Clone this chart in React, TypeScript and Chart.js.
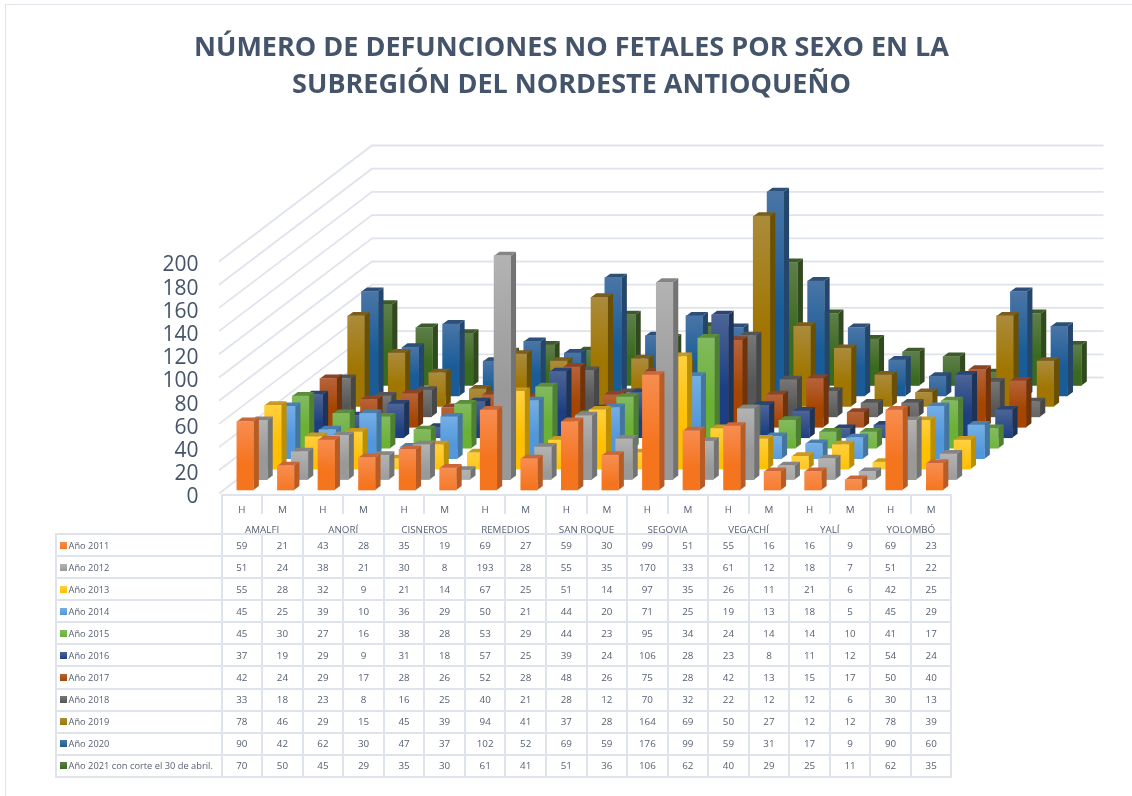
import React, { useEffect, useRef } from "react";
import { Chart, registerables } from "chart.js";

Chart.register(...registerables);

const titleLines = ["NÚMERO DE DEFUNCIONES NO FETALES POR SEXO EN LA", "SUBREGIÓN DEL NORDESTE ANTIOQUEÑO"];
const municipalities = ["AMALFI", "ANORÍ", "CISNEROS", "REMEDIOS", "SAN ROQUE", "SEGOVIA", "VEGACHÍ", "YALÍ", "YOLOMBÓ"];
const sexes = ["H", "M"];
const seriesNames = ["Año 2011", "Año 2012", "Año 2013", "Año 2014", "Año 2015", "Año 2016", "Año 2017", "Año 2018", "Año 2019", "Año 2020", "Año 2021 con corte el 30 de abril."];

const y2011 = [59, 21, 43, 28, 35, 19, 69, 27, 59, 30, 99, 51, 55, 16, 16, 9, 69, 23];
const y2012 = [51, 24, 38, 21, 30, 8, 193, 28, 55, 35, 170, 33, 61, 12, 18, 7, 51, 22];
const y2013 = [55, 28, 32, 9, 21, 14, 67, 25, 51, 14, 97, 35, 26, 11, 21, 6, 42, 25];
const y2014 = [45, 25, 39, 10, 36, 29, 50, 21, 44, 20, 71, 25, 19, 13, 18, 5, 45, 29];
const y2015 = [45, 30, 27, 16, 38, 28, 53, 29, 44, 23, 95, 34, 24, 14, 14, 10, 41, 17];
const y2016 = [37, 19, 29, 9, 31, 18, 57, 25, 39, 24, 106, 28, 23, 8, 11, 12, 54, 24];
const y2017 = [42, 24, 29, 17, 28, 26, 52, 28, 48, 26, 75, 28, 42, 13, 15, 17, 50, 40];
const y2018 = [33, 18, 23, 8, 16, 25, 40, 21, 28, 12, 70, 32, 22, 12, 12, 6, 30, 13];
const y2019 = [78, 46, 29, 15, 45, 39, 94, 41, 37, 28, 164, 69, 50, 27, 12, 12, 78, 39];
const y2020 = [90, 42, 62, 30, 47, 37, 102, 52, 69, 59, 176, 99, 59, 31, 17, 9, 90, 60];
const y2021 = [70, 50, 45, 29, 35, 30, 61, 41, 51, 36, 106, 62, 40, 29, 25, 11, 62, 35];
const seriesValues = [y2011, y2012, y2013, y2014, y2015, y2016, y2017, y2018, y2019, y2020, y2021];

const topColors = ["#f78d50", "#b3b3b3", "#ffcf3d", "#74aee6", "#82ba5e", "#4c6496", "#b7623a", "#777777", "#ab8b3c", "#4a75a6", "#5e7e49"];
const bottomColors = ["#f5751f", "#999999", "#ffc000", "#5297dc", "#6ab134", "#1d3f82", "#a54500", "#565656", "#a07600", "#195c98", "#3a6a1e"];
const sideColors = ["#b85c25", "#737373", "#bb8e04", "#44759f", "#4f7f33", "#1d3357", "#70340c", "#474747", "#695005", "#24466b", "#30491f"];
const capColors = ["#c8683a", "#858585", "#c99a1e", "#4c7fae", "#5b8d3d", "#2c4470", "#8a4426", "#555555", "#7a5e1f", "#2d4f78", "#3c5a2a"];

const labels = municipalities.flatMap(() => sexes);

const ROW_DX = 13.85;
const ROW_DY = 10.45;
const FIRST_DX = 4.4;
const FIRST_DY = 3.5;
const DEPTH_X = 5.4;
const DEPTH_Y = 4;
const WALL_X = 153;
const WALL_Y = 116;
const LINE = "#dfe3ec";

const rowOffset = (i: number) => ({ x: FIRST_DX + ROW_DX * i, y: -FIRST_DY - ROW_DY * i });

const bars3d = {
  id: "bars3d",
  beforeDatasetsDraw(chart: any) {
    const { ctx, chartArea, scales } = chart;
    ctx.save();
    ctx.strokeStyle = LINE;
    ctx.lineWidth = 1.8;
    scales.y.ticks.forEach((t: any) => {
      const py = scales.y.getPixelForValue(t.value);
      ctx.beginPath();
      ctx.moveTo(chartArea.left - 1.5, py);
      ctx.lineTo(chartArea.left - 1.5 + WALL_X, py - WALL_Y);
      ctx.lineTo(chartArea.right + WALL_X, py - WALL_Y);
      ctx.stroke();
    });
    ctx.restore();
  },
  beforeDatasetDraw(chart: any, args: any) {
    const { ctx } = chart;
    const i = args.index;
    const off = rowOffset(i);
    ctx.save();
    ctx.translate(off.x, off.y);
    args.meta.data.forEach((bar: any) => {
      const p = bar.getProps(["x", "y", "base", "width"], true);
      const l = p.x - p.width / 2;
      const r = p.x + p.width / 2;
      ctx.fillStyle = sideColors[i];
      ctx.beginPath();
      ctx.moveTo(r, p.y);
      ctx.lineTo(r + DEPTH_X, p.y - DEPTH_Y);
      ctx.lineTo(r + DEPTH_X, p.base - DEPTH_Y);
      ctx.lineTo(r, p.base);
      ctx.closePath();
      ctx.fill();
      ctx.fillStyle = capColors[i];
      ctx.beginPath();
      ctx.moveTo(l, p.y);
      ctx.lineTo(l + DEPTH_X, p.y - DEPTH_Y);
      ctx.lineTo(r + DEPTH_X, p.y - DEPTH_Y);
      ctx.lineTo(r, p.y);
      ctx.closePath();
      ctx.fill();
    });
  },
  afterDatasetDraw(chart: any) {
    chart.ctx.restore();
  },
};

const border = `2px solid ${LINE}`;
const cellText: React.CSSProperties = {
  display: "flex",
  alignItems: "center",
  justifyContent: "center",
  boxSizing: "border-box",
  fontFamily: "'Open Sans', sans-serif",
  fontSize: 9.8,
  color: "#565f70",
  whiteSpace: "nowrap",
};

export default function App() {
  const ref = useRef<HTMLCanvasElement>(null);

  useEffect(() => {
    document.body.style.margin = "0";
    const chart = new Chart(ref.current as HTMLCanvasElement, {
      type: "bar",
      plugins: [bars3d],
      data: {
        labels,
        datasets: seriesNames.map((label, i) => ({
          label,
          data: seriesValues[i],
          clip: false,
          grouped: false,
          barThickness: 16.6,
          borderWidth: 0,
          backgroundColor: (c: any) => {
            const { chart: ch, parsed } = c;
            const yScale = ch.scales.y;
            if (!parsed || !yScale) return bottomColors[i];
            const top = yScale.getPixelForValue(parsed.y);
            const zero = yScale.getPixelForValue(0);
            if (!Number.isFinite(top) || !Number.isFinite(zero)) return bottomColors[i];
            const g = ch.ctx.createLinearGradient(0, top, 0, top + Math.max(46, zero - top));
            g.addColorStop(0, topColors[i]);
            g.addColorStop(0.6, bottomColors[i]);
            g.addColorStop(1, bottomColors[i]);
            return g;
          },
        })) as any,
      },
      options: {
        animation: false,
        responsive: false,
        layout: { padding: { left: 11, right: 0, top: 0, bottom: 302.5 } },
        plugins: {
          legend: { display: false },
          tooltip: { enabled: false },
          title: {
            display: true,
            text: titleLines,
            color: "#44546a",
            font: { family: "'Open Sans', sans-serif", size: 27, weight: "bold", lineHeight: "37px" },
            padding: { top: 30, bottom: 157.5 },
          },
        },
        scales: {
          x: { display: false, grid: { display: false }, offset: true },
          y: {
            min: 0,
            max: 200,
            grid: { display: false },
            border: { display: false },
            afterFit: (s: any) => { s.width = 209.5; },
            ticks: {
              stepSize: 20,
              autoSkip: false,
              padding: 14,
              color: "#44546a",
              font: { family: "'Open Sans', sans-serif", size: 21, lineHeight: "8px" },
              callback: (v: any) => ["", String(v)],
            },
          },
          spacer: {
            position: "right",
            display: true,
            grid: { display: false },
            border: { display: false },
            ticks: { display: false },
            afterFit: (s: any) => { s.width = 181.5; },
          },
        },
      } as any,
    });
    return () => chart.destroy();
  }, []);

  return (
    <div style={{ position: "relative", width: 1132, height: 796, overflow: "hidden", background: "#fff" }}>
      <div style={{ position: "absolute", left: 5, top: 4, width: 1200, height: 900, border: `1.5px solid ${LINE}` }} />
      <canvas ref={ref} width={1132} height={796} style={{ position: "absolute", left: 0, top: 0, width: 1132, height: 796 }} />
      <div
        style={{
          position: "absolute",
          left: 55,
          top: 493.5,
          display: "grid",
          gridTemplateColumns: "167.6px repeat(18, 40.55px)",
          gridTemplateRows: "20.5px 21px repeat(11, 22.09px)",
        }}
      >
        <div style={{ gridColumn: "1", gridRow: "1 / span 2", borderRight: border, borderBottom: border, boxSizing: "border-box" }} />
        {labels.map((s, c) => (
          <div key={c} style={{ ...cellText, gridColumn: c + 2, gridRow: 1, borderTop: border, borderRight: border, paddingTop: 9 }}>{s}</div>
        ))}
        {municipalities.map((m, c) => (
          <div key={m} style={{ ...cellText, gridColumn: `${c * 2 + 2} / span 2`, gridRow: 2, borderRight: border, borderBottom: border, paddingTop: 11 }}>{m}</div>
        ))}
        {seriesNames.map((name, r) => (
          <React.Fragment key={name}>
            <div style={{ ...cellText, fontSize: 9.3, justifyContent: "flex-start", gridColumn: 1, gridRow: r + 3, borderLeft: border, borderRight: border, borderBottom: border, paddingLeft: 3 }}>
              <span style={{ display: "inline-block", width: 7, height: 7, marginRight: 1.5, background: `linear-gradient(${topColors[r]}, ${bottomColors[r]})` }} />
              {name}
            </div>
            {seriesValues[r].map((v, c) => (
              <div key={c} style={{ ...cellText, gridColumn: c + 2, gridRow: r + 3, borderRight: border, borderBottom: border }}>{v}</div>
            ))}
          </React.Fragment>
        ))}
      </div>
    </div>
  );
}
